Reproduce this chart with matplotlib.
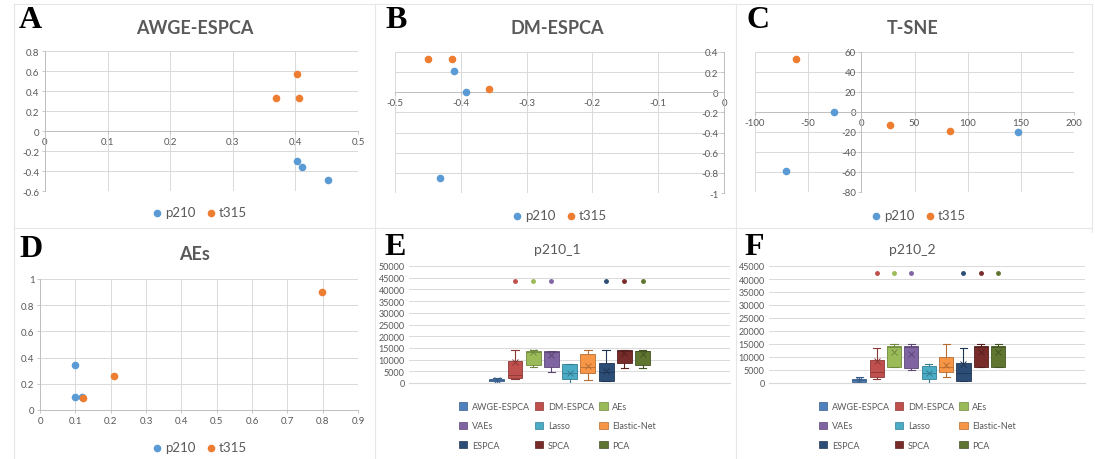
import matplotlib
matplotlib.use("Agg")
import matplotlib.pyplot as plt
from matplotlib.lines import Line2D
from matplotlib.patches import Patch

plt.rcParams["font.family"] = ["Lato", "DejaVu Sans"]
plt.rcParams["axes.unicode_minus"] = False

W, H = 1095, 460

# ---- scatter data ----
awge_p210_x = [0.403, 0.410, 0.452]
awge_p210_y = [-0.30, -0.355, -0.49]
awge_t315_x = [0.369, 0.403, 0.405]
awge_t315_y = [0.335, 0.57, 0.335]

dm_p210_x = [-0.410, -0.392, -0.432]
dm_p210_y = [0.21, 0.005, -0.855]
dm_t315_x = [-0.450, -0.413, -0.357]
dm_t315_y = [0.33, 0.33, 0.035]

tsne_p210_x = [-71, -26, 147]
tsne_p210_y = [-59, 0, -20]
tsne_t315_x = [-61, 27, 83]
tsne_t315_y = [53, -13, -19]

aes_p210_x = [0.100, 0.100, 0.118]
aes_p210_y = [0.34, 0.10, 0.10]
aes_t315_x = [0.123, 0.210, 0.797]
aes_t315_y = [0.095, 0.26, 0.90]

# ---- box plot data ----
methods = ["AWGE-ESPCA", "DM-ESPCA", "AEs", "VAEs", "Lasso", "Elastic-Net",
           "ESPCA", "SPCA", "PCA"]
box_colors = ["#4F81BD", "#C0504D", "#9BBB59", "#8064A2", "#4BACC6", "#F79646",
              "#2C4D75", "#772C2A", "#5F7530"]
edge_colors = ["#385D8A", "#8C3836", "#71893F", "#5C4776", "#357D91", "#B66D31",
               "#1F3755", "#561F1E", "#445523"]

p1_whislo = [0, 1700, 7000, 4600, 0, 1400, 700, 6400, 6400]
p1_q1 = [700, 2150, 7700, 6700, 1700, 4150, 1000, 8600, 7700]
p1_med = [1200, 3500, 13300, 13300, 4300, 7000, 4500, 13600, 13500]
p1_q3 = [1700, 9600, 13600, 13600, 8000, 12300, 8500, 13900, 13800]
p1_whishi = [2200, 13900, 14200, 13600, 8300, 13900, 13900, 14200, 14200]
p1_mean = [1200, 8900, 13200, 11900, 4300, 7400, 5300, 12900, 12600]
p1_out = [None, 43500, 43500, 43500, None, None, 43500, 43500, 43500]

p2_whislo = [0, 1500, 6000, 5100, 0, 2200, 600, 6000, 6000]
p2_q1 = [500, 2200, 6300, 5700, 1500, 4100, 900, 6300, 6300]
p2_med = [1000, 4100, 13800, 13800, 3900, 6000, 4000, 13800, 13800]
p2_q3 = [1500, 8900, 14200, 14200, 6700, 9900, 7600, 14200, 14200]
p2_whishi = [2400, 13500, 15100, 15100, 7300, 15100, 13500, 15100, 15100]
p2_mean = [1000, 8600, 11900, 11200, 3900, 7000, 7300, 11900, 11900]
p2_out = [None, 42300, 42300, 42300, None, None, 42300, 42300, 42300]

BLUE = "#5B9BD5"
ORANGE = "#ED7D31"
GRID = "#D9D9D9"
AXIS = "#BFBFBF"
TXT = "#595959"

fig = plt.figure(figsize=(W / 100, H / 100), dpi=100)


def px_axes(x0, y0, x1, y1):
    return fig.add_axes([x0 / W, 1 - y1 / H, (x1 - x0) / W, (y1 - y0) / H])


def fx(x):
    return x / W


def fy(y):
    return 1 - y / H


# panel frame lines
for x in [14, 375, 736]:
    fig.add_artist(Line2D([fx(x), fx(x)], [fy(5), fy(460)], color="#E6E6E6", lw=0.8))
fig.add_artist(Line2D([fx(1092), fx(1092)], [fy(5), fy(233)], color="#E6E6E6", lw=0.8))
fig.add_artist(Line2D([fx(14), fx(1092)], [fy(5), fy(5)], color="#E6E6E6", lw=0.8))
fig.add_artist(Line2D([fx(14), fx(1092)], [fy(229), fy(229)], color="#E6E6E6", lw=0.8))


def scatter_panel(box, xs, ys, xlim, ylim, xstep, ystep, xcross, ycross,
                  title, tpos, letter, lpos, legpos):
    ax = px_axes(*box)
    ax.scatter(xs[0], ys[0], s=20, color=BLUE, zorder=3, clip_on=False, label="p210")
    ax.scatter(xs[1], ys[1], s=20, color=ORANGE, zorder=3, clip_on=False, label="t315")
    ax.set_xlim(*xlim)
    ax.set_ylim(*ylim)
    nx = int(round((xlim[1] - xlim[0]) / xstep))
    ny = int(round((ylim[1] - ylim[0]) / ystep))
    ax.set_xticks([round(xlim[0] + i * xstep, 6) for i in range(nx + 1)])
    ax.set_yticks([round(ylim[0] + i * ystep, 6) for i in range(ny + 1)])
    ax.xaxis.set_major_formatter(lambda v, p: f"{v:g}")
    ax.yaxis.set_major_formatter(lambda v, p: f"{v:g}")
    ax.grid(True, color=GRID, lw=0.7)
    ax.set_axisbelow(True)
    for s in ["top", "right"]:
        ax.spines[s].set_visible(False)
    ax.spines["left"].set_position(("data", xcross))
    ax.spines["bottom"].set_position(("data", ycross))
    ax.spines["left"].set_color(AXIS)
    ax.spines["bottom"].set_color(AXIS)
    ax.spines["left"].set_linewidth(0.7)
    ax.spines["bottom"].set_linewidth(0.7)
    ax.tick_params(colors=AXIS, labelcolor=TXT, labelsize=7, length=2, width=0.6, pad=2)
    fig.text(fx(tpos[0]), fy(tpos[1]), title, ha="center", va="center",
             fontsize=13, fontweight="bold", color=TXT)
    fig.text(fx(lpos[0]), fy(lpos[1]), letter, ha="left", va="center",
             fontsize=23, fontweight="bold", family="Liberation Serif", color="black")
    ax.legend(loc="center", bbox_to_anchor=(fx(legpos[0]), fy(legpos[1])),
              bbox_transform=fig.transFigure, ncol=2, frameon=False, fontsize=9.5,
              handletextpad=0.0, columnspacing=0.6, labelcolor=TXT,
              markerscale=1.0, handlelength=1.2)
    return ax


scatter_panel((45, 52, 358, 192), [awge_p210_x, awge_t315_x], [awge_p210_y, awge_t315_y],
              (0, 0.5), (-0.6, 0.8), 0.1, 0.2, 0, 0,
              "AWGE-ESPCA", (195, 28), "A", (19, 21), (198, 213))
scatter_panel((395, 53, 724, 194), [dm_p210_x, dm_t315_x], [dm_p210_y, dm_t315_y],
              (-0.5, 0), (-1, 0.4), 0.1, 0.2, 0, 0,
              "DM-ESPCA", (557, 28), "B", (385, 21), (558, 216))
scatter_panel((755, 53, 1074, 193), [tsne_p210_x, tsne_t315_x], [tsne_p210_y, tsne_t315_y],
              (-100, 200), (-80, 60), 50, 20, 0, 0,
              "T-SNE", (913, 28), "C", (746, 21), (917, 216))
scatter_panel((40, 280, 358, 411), [aes_p210_x, aes_t315_x], [aes_p210_y, aes_t315_y],
              (0, 0.9), (0, 1), 0.1, 0.2, 0, 0,
              "AEs", (195, 255), "D", (19, 250), (198, 448))


def box_panel(box, whislo, q1, med, q3, whishi, mean, outl, ymax, xlim,
              title, tpos, letter, lpos, legpos):
    ax = px_axes(*box)
    stats = []
    for i in range(len(methods)):
        stats.append(dict(whislo=whislo[i], q1=q1[i], med=med[i], q3=q3[i],
                          whishi=whishi[i], mean=mean[i],
                          fliers=[outl[i]] if outl[i] is not None else []))
    for i, st in enumerate(stats):
        ax.bxp([st], positions=[i], widths=0.82, patch_artist=True,
               showmeans=True, showfliers=True,
               boxprops=dict(facecolor=box_colors[i], edgecolor=edge_colors[i], lw=0.6),
               medianprops=dict(color=edge_colors[i], lw=0.6),
               whiskerprops=dict(color=edge_colors[i], lw=0.8),
               capprops=dict(color=edge_colors[i], lw=0.8),
               meanprops=dict(marker="x", markeredgecolor=edge_colors[i],
                              markersize=5, markeredgewidth=0.7),
               flierprops=dict(marker="o", markerfacecolor=box_colors[i],
                               markeredgecolor=box_colors[i], markersize=2.5))
    ax.set_xlim(*xlim)
    ax.set_ylim(0, ymax)
    ax.set_yticks(range(0, ymax + 1, 5000))
    ax.set_xticks([])
    ax.grid(True, axis="y", color=GRID, lw=0.7)
    ax.set_axisbelow(True)
    for s in ["top", "right", "left"]:
        ax.spines[s].set_visible(False)
    ax.spines["bottom"].set_color(GRID)
    ax.tick_params(axis="y", length=0, labelsize=6.5, labelcolor=TXT, pad=3)
    fig.text(fx(tpos[0]), fy(tpos[1]), title, ha="center", va="center",
             fontsize=10, color=TXT)
    fig.text(fx(lpos[0]), fy(lpos[1]), letter, ha="left", va="center",
             fontsize=23, fontweight="bold", family="Liberation Serif", color="black")
    handles = [Patch(facecolor=box_colors[i], edgecolor=edge_colors[i], lw=0.5, label=methods[i])
               for i in range(len(methods))]
    order = [0, 3, 6, 1, 4, 7, 2, 5, 8]
    ax.legend([handles[i] for i in order], [methods[i] for i in order],
              loc="upper left", bbox_to_anchor=(fx(legpos[0]), fy(legpos[1])),
              bbox_transform=fig.transFigure, ncol=3, frameon=False, fontsize=6.5,
              handlelength=0.9, handleheight=0.9, handletextpad=0.5,
              columnspacing=0.6, labelspacing=1.15, labelcolor=TXT,
              borderpad=0, borderaxespad=0)
    return ax


box_panel((409, 267, 730, 384), p1_whislo, p1_q1, p1_med, p1_q3, p1_whishi, p1_mean, p1_out,
          50000, (-4.82, 12.8), "p210_1", (557, 250), "E", (384, 248), (459, 403))
box_panel((769, 267, 1085, 384), p2_whislo, p2_q1, p2_med, p2_q3, p2_whishi, p2_mean, p2_out,
          45000, (-5.2, 13.0), "p210_2", (912, 250), "F", (744, 248), (819, 403))

fig.savefig("out.png", dpi=100)
